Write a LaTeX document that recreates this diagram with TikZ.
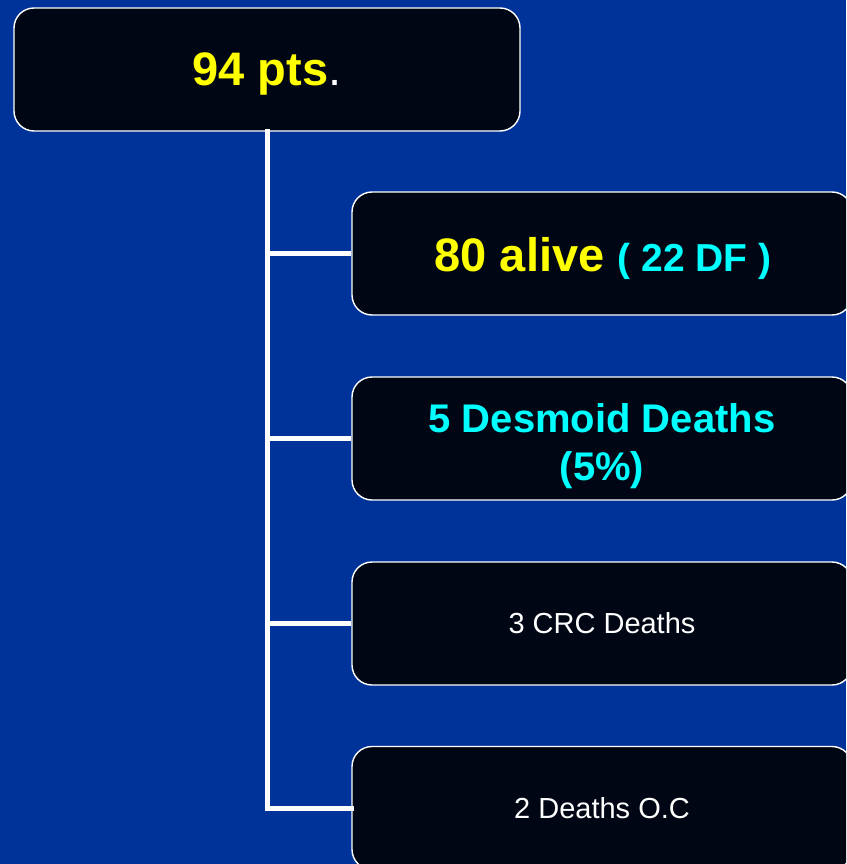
\documentclass[tikz,border=0pt]{standalone}
\usepackage{fontspec}
\setmainfont{Liberation Sans}
\definecolor{bgblue}{RGB}{0,51,153}
\definecolor{boxfill}{RGB}{0,6,20}
\definecolor{ylw}{RGB}{255,255,0}
\definecolor{cyn}{RGB}{0,255,255}
\begin{document}
\begin{tikzpicture}[x=1pt,y=-1pt,
  box/.style={draw=white, line width=1.4pt, fill=boxfill, rounded corners=20pt,
    minimum height=123pt, inner sep=0pt, align=center, text=white},
  topbox/.style={box, minimum width=506pt},
  childbox/.style={box, minimum width=500pt},
  link/.style={draw=white, line width=5pt}]
\fill[bgblue] (0,0) rectangle (846,864);
\useasboundingbox (0,0) rectangle (846,864);
\begin{scope}
\clip (0,0) rectangle (846,864);
\node[topbox] (top) at (267,69.5) {};
\node[font=\fontsize{47}{52}\selectfont\bfseries, text=ylw] at ([yshift=-4pt]top.center) {94 pts\textmd{\color{white}.}};
\node[childbox] (c1) at (602,253.5) {};
\node[font=\fontsize{47}{52}\selectfont\bfseries, text=ylw] at ([xshift=1pt,yshift=-5pt]c1.center) {80 alive {\fontsize{39}{44}\selectfont\color{cyn}( 22 DF )}};
\node[childbox] (c2) at (602,438.5) {};
\node[font=\fontsize{40}{48}\selectfont\bfseries, text=cyn, align=center] at ([yshift=-8pt]c2.center) {5 Desmoid Deaths\\(5\%)};
\node[childbox, font=\fontsize{29}{34}\selectfont] (c3) at (602,623.5) {3 CRC Deaths};
\node[childbox, font=\fontsize{29}{34}\selectfont] (c4) at (602,808) {2 Deaths O.C};
\end{scope}
\draw[link, line cap=rect] (top.south) |- (c4.west);
\draw[link] (top.south |- c1.west) -- (c1.west);
\draw[link] (top.south |- c2.west) -- (c2.west);
\draw[link] (top.south |- c3.west) -- (c3.west);
\end{tikzpicture}
\end{document}
